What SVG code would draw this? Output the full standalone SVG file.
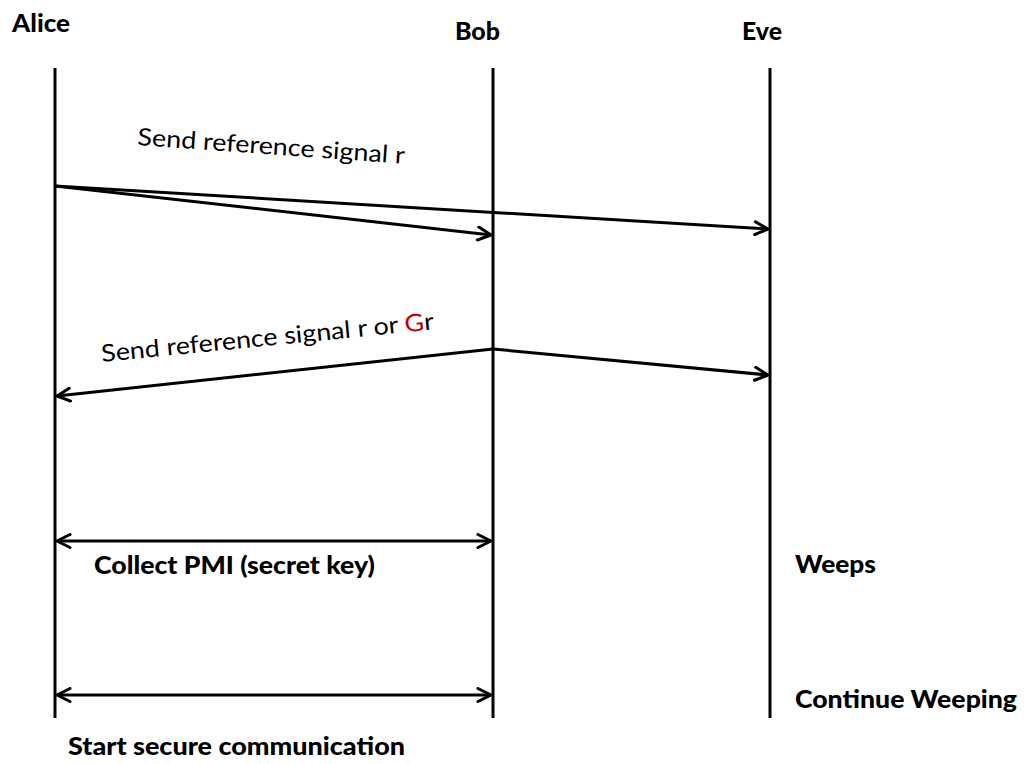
<svg xmlns="http://www.w3.org/2000/svg" width="1025" height="764" viewBox="0 0 1025 764">
<style>
.life{stroke:#000;stroke-width:3;fill:none}
.msg{stroke:#000;stroke-width:3;fill:none}
.head{font-family:Lato,"Liberation Sans",sans-serif;font-weight:900;font-size:24px;fill:#000}
.lbl{font-family:Lato,"Liberation Sans",sans-serif;font-size:24px;fill:#000}
.blbl{font-family:Lato,"Liberation Sans",sans-serif;font-weight:900;font-size:25px;fill:#000}
</style>
<defs>
<marker id="ah" viewBox="0 0 16 16" refX="15" refY="8" markerWidth="16" markerHeight="16" markerUnits="userSpaceOnUse" orient="auto-start-reverse">
<path d="M2,1.5 L15,8 L2,14.5" fill="none" stroke="#000" stroke-width="3" stroke-linecap="round" stroke-linejoin="round"/>
</marker>
</defs>
<rect width="1025" height="764" fill="#fff"/>
<g id="alice">
<line class="life" x1="55" y1="68" x2="55" y2="718"/>
<text class="head" x="12" y="32" textLength="58" lengthAdjust="spacingAndGlyphs">Alice</text>
</g>
<g id="bob">
<line class="life" x1="493" y1="68" x2="493" y2="718"/>
<text class="head" x="455" y="40" textLength="45" lengthAdjust="spacingAndGlyphs">Bob</text>
</g>
<g id="eve">
<line class="life" x1="770" y1="68" x2="770" y2="718"/>
<text class="head" x="742" y="40" textLength="40" lengthAdjust="spacingAndGlyphs">Eve</text>
</g>
<g id="connectors">
<line class="msg" x1="55" y1="186" x2="491" y2="235" marker-end="url(#ah)"/>
<line class="msg" x1="55" y1="186" x2="768" y2="229" marker-end="url(#ah)"/>
<line class="msg" x1="493" y1="349" x2="57" y2="396" marker-end="url(#ah)"/>
<line class="msg" x1="493" y1="349" x2="768" y2="375" marker-end="url(#ah)"/>
<line class="msg" x1="57" y1="541" x2="491" y2="541" marker-start="url(#ah)" marker-end="url(#ah)"/>
<line class="msg" x1="57" y1="695" x2="491" y2="695" marker-start="url(#ah)" marker-end="url(#ah)"/>
</g>
<g id="labels">
<text class="lbl" transform="translate(137,145) rotate(4)" textLength="268" lengthAdjust="spacingAndGlyphs">Send reference signal r</text>
<text class="lbl" transform="translate(102,362) rotate(-5.6)" textLength="334" lengthAdjust="spacingAndGlyphs">Send reference signal r or <tspan fill="#c00000">G</tspan>r</text>
<text class="blbl" x="94" y="574" textLength="281" lengthAdjust="spacingAndGlyphs">Collect PMI (secret key)</text>
<text class="blbl" x="68" y="755" textLength="337" lengthAdjust="spacingAndGlyphs">Start secure communication</text>
<text class="blbl" x="795" y="573" textLength="81" lengthAdjust="spacingAndGlyphs">Weeps</text>
<text class="blbl" x="795" y="708" textLength="222" lengthAdjust="spacingAndGlyphs">Continue Weeping</text>
</g>
</svg>
